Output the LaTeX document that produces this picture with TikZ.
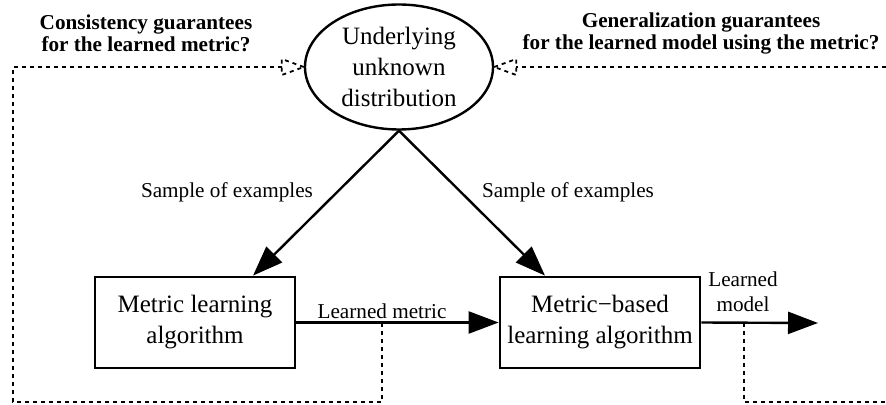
\documentclass[tikz,border=0pt]{standalone}
\usepackage{fontspec}
\setmainfont{Liberation Serif}[BoldFont={Liberation Serif Bold},ItalicFont={Liberation Serif Italic}]
\usetikzlibrary{arrows.meta,shapes.geometric,calc}
\begin{document}
\begin{tikzpicture}[x=0.5pt,y=-0.5pt,
  boxnode/.style={draw,line width=1.4pt,minimum width=100pt,minimum height=45.5pt,inner sep=0pt,align=center,font=\fontsize{12.5}{15.5}\selectfont},
  distnode/.style={draw,ellipse,line width=1.2pt,minimum width=94pt,minimum height=62.5pt,inner sep=0pt,align=center,font=\fontsize{12.5}{15.5}\selectfont},
  lbl/.style={align=center,inner sep=0pt,font=\fontsize{10.6}{12.5}\selectfont},
  qlbl/.style={align=center,inner sep=0pt,font=\fontsize{10.6}{11}\selectfont\bfseries},
  flow/.style={line width=1.2pt,-{Triangle[length=15pt,width=11pt]}},
  guar/.style={line width=0.9pt,dash pattern=on 2pt off 2pt},
]
\useasboundingbox (0,0) rectangle (886,405);
\clip (0,0) rectangle (886,405);

\node[distnode] (dist) at (399,67) {Underlying\\unknown\\distribution};
\node[boxnode] (mla) at (195,322.5) {Metric learning\\algorithm};
\node[boxnode] (mbl) at (600,322.5) {Metric−based\\learning algorithm};

\node[lbl] (sl) at (227,192) {Sample of examples};
\node[lbl] (sr) at (568,192) {Sample of examples};
\node[lbl] (lm) at (382,311) {Learned metric};
\node[lbl] (lmod) at (743,292) {Learned\\model};
\node[qlbl] (ql) at (146,33) {Consistency guarantees\\for the learned metric?};
\node[qlbl] (qr) at (701,33) {Generalization guarantees\\for the learned model using the metric?};

\draw[flow] (dist.south) -- ($(mla.north)+(58,0)$);
\draw[flow] (dist.south) -- ($(mbl.north)+(-55,0)$);
\draw[flow] (mla.east) -- (mbl.west);
\coordinate (out) at (818,323);
\draw[flow] (mbl.east) -- (out);

\coordinate (c1) at (382,323);
\coordinate (c2) at (744,323);
\coordinate (lb) at (13,402);
\coordinate (rb) at (920,402);
\draw[guar] (c1) |- (lb) |- ($(dist.west)+(-22,0)$);
\draw[guar] (c2) |- (rb) |- ($(dist.east)+(22,0)$);
\draw[guar] (dist.west) -- ++(-22,-8) -- ++(0,16) -- cycle;
\draw[guar] (dist.east) -- ++(22,-8) -- ++(0,16) -- cycle;
\end{tikzpicture}
\end{document}
